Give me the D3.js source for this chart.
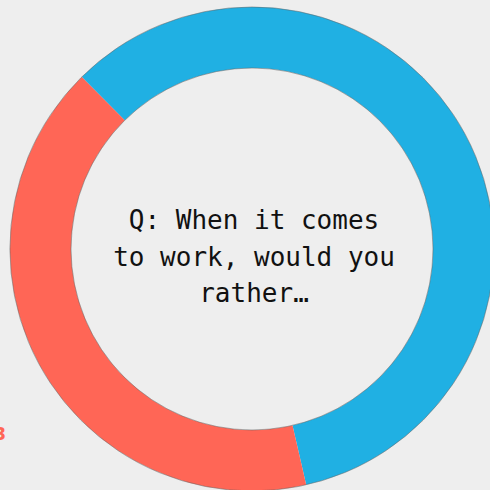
<!DOCTYPE html>
<html>
<head>
<meta charset="utf-8">
<script src="https://cdn.jsdelivr.net/npm/d3@7"></script>
<style>
  html, body { margin: 0; padding: 0; background: #eeeeee; overflow: hidden; }
</style>
</head>
<body>
<div id="chart"></div>
<script>
// Data (two answers to the question)
const categories = ["Option A", "Option B"];
const values = [20, 14];
const colors = ["#20b0e3", "#ff6656"];
const questionLines = ["Q: When it comes", "to work, would you", "rather…"];

// Set up dimensions
const width = 490;
const height = 490;
const cx = 252, cy = 249;
const outerR = 242, innerR = 181;

const svg = d3.select("#chart")
  .append("svg")
  .attr("width", width)
  .attr("height", height)
  .style("background", "#eeeeee");

const g = svg.append("g")
  .attr("transform", `translate(${cx},${cy})`);

const startA = -44.7 * Math.PI / 180;
const pie = d3.pie()
  .sort(null)
  .startAngle(startA)
  .endAngle(startA + 2 * Math.PI);

const arc = d3.arc()
  .innerRadius(innerR)
  .outerRadius(outerR);

const color = d3.scaleOrdinal()
  .domain(categories)
  .range(colors);

g.selectAll("path.slice")
  .data(pie(values))
  .join("path")
  .attr("class", "slice")
  .attr("d", arc)
  .attr("fill", (d, i) => color(categories[i]));

// faint outline round the ring
const ring = d3.arc().startAngle(0).endAngle(2 * Math.PI);
[outerR, innerR].forEach(r => {
  g.append("path")
    .attr("d", ring({innerRadius: r, outerRadius: r}))
    .attr("fill", "none")
    .attr("stroke", "#666")
    .attr("stroke-opacity", 0.5)
    .attr("stroke-width", 0.6);
});

// Center question
g.append("text")
  .attr("text-anchor", "middle")
  .style("font-family", "'DejaVu Sans Mono', 'Liberation Mono', monospace")
  .style("font-size", "26px")
  .attr("fill", "#111")
  .selectAll("tspan")
  .data(questionLines)
  .join("tspan")
  .attr("x", 2)
  .attr("y", (d, i) => -20 + i * 36.5)
  .text(d => d);

// cut-off label at the left edge
svg.append("text")
  .attr("x", 6)
  .attr("y", 440)
  .attr("text-anchor", "end")
  .style("font-family", "'DejaVu Sans', sans-serif")
  .style("font-size", "17px")
  .style("font-weight", "bold")
  .attr("fill", "#ff6656")
  .text("3");
</script>
</body>
</html>
